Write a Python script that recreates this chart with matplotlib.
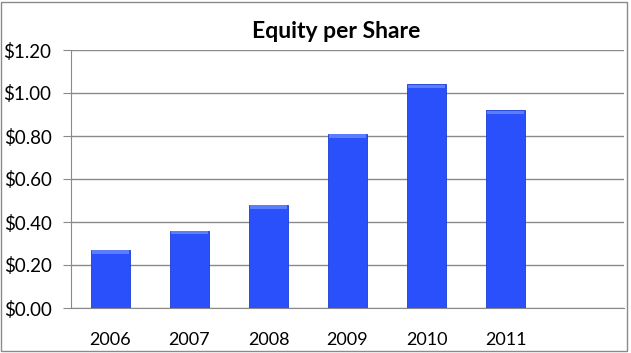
import matplotlib
matplotlib.use("Agg")
import matplotlib.pyplot as plt
from matplotlib.patches import Rectangle
from matplotlib.ticker import FuncFormatter

years = ["2006", "2007", "2008", "2009", "2010", "2011"]
equity = [0.27, 0.36, 0.48, 0.81, 1.04, 0.92]

plt.rcParams["font.family"] = ["Lato", "DejaVu Sans"]

fig = plt.figure(figsize=(6.31, 3.53), dpi=100)
ax = fig.add_axes([71 / 631, 45 / 353, 553 / 631, 258 / 353])

pos = list(range(len(years)))
ax.bar(pos, equity, width=0.5, color="#2a50fb", edgecolor="#1c3cd6", linewidth=0.6, zorder=3)
# lighter bevel at the top of each bar
ax.bar(pos, [0.016] * len(equity), bottom=[v - 0.018 for v in equity], width=0.46,
       color="#5d7dff", linewidth=0, zorder=4)

ax.set_xlim(-0.5, 6.5)
ax.set_ylim(0, 1.2)
ax.set_yticks([i * 0.2 for i in range(7)])
ax.yaxis.set_major_formatter(FuncFormatter(lambda v, _: f"${v:.2f}"))
ax.set_xticks(pos)
ax.set_xticklabels(years)

ax.grid(axis="y", color="#8a8a8a", linewidth=1, zorder=0)
ax.set_axisbelow(True)
for side in ["top", "right"]:
    ax.spines[side].set_visible(False)
for side in ["left", "bottom"]:
    ax.spines[side].set_color("#8a8a8a")
ax.tick_params(axis="y", length=6, color="#8a8a8a", pad=8, labelsize=13.5)
ax.tick_params(axis="x", length=0, pad=17, labelsize=13)

fig.text(336 / 631, 1 - 32 / 353, "Equity per Share", ha="center", va="center",
         fontsize=16.5, fontweight="bold")
fig.patches.append(Rectangle((1 / 631, 2 / 353), 626 / 631, 349 / 353, transform=fig.transFigure,
                             fill=False, edgecolor="#8a8a8a", linewidth=1))

fig.savefig("out.png", dpi=100)
